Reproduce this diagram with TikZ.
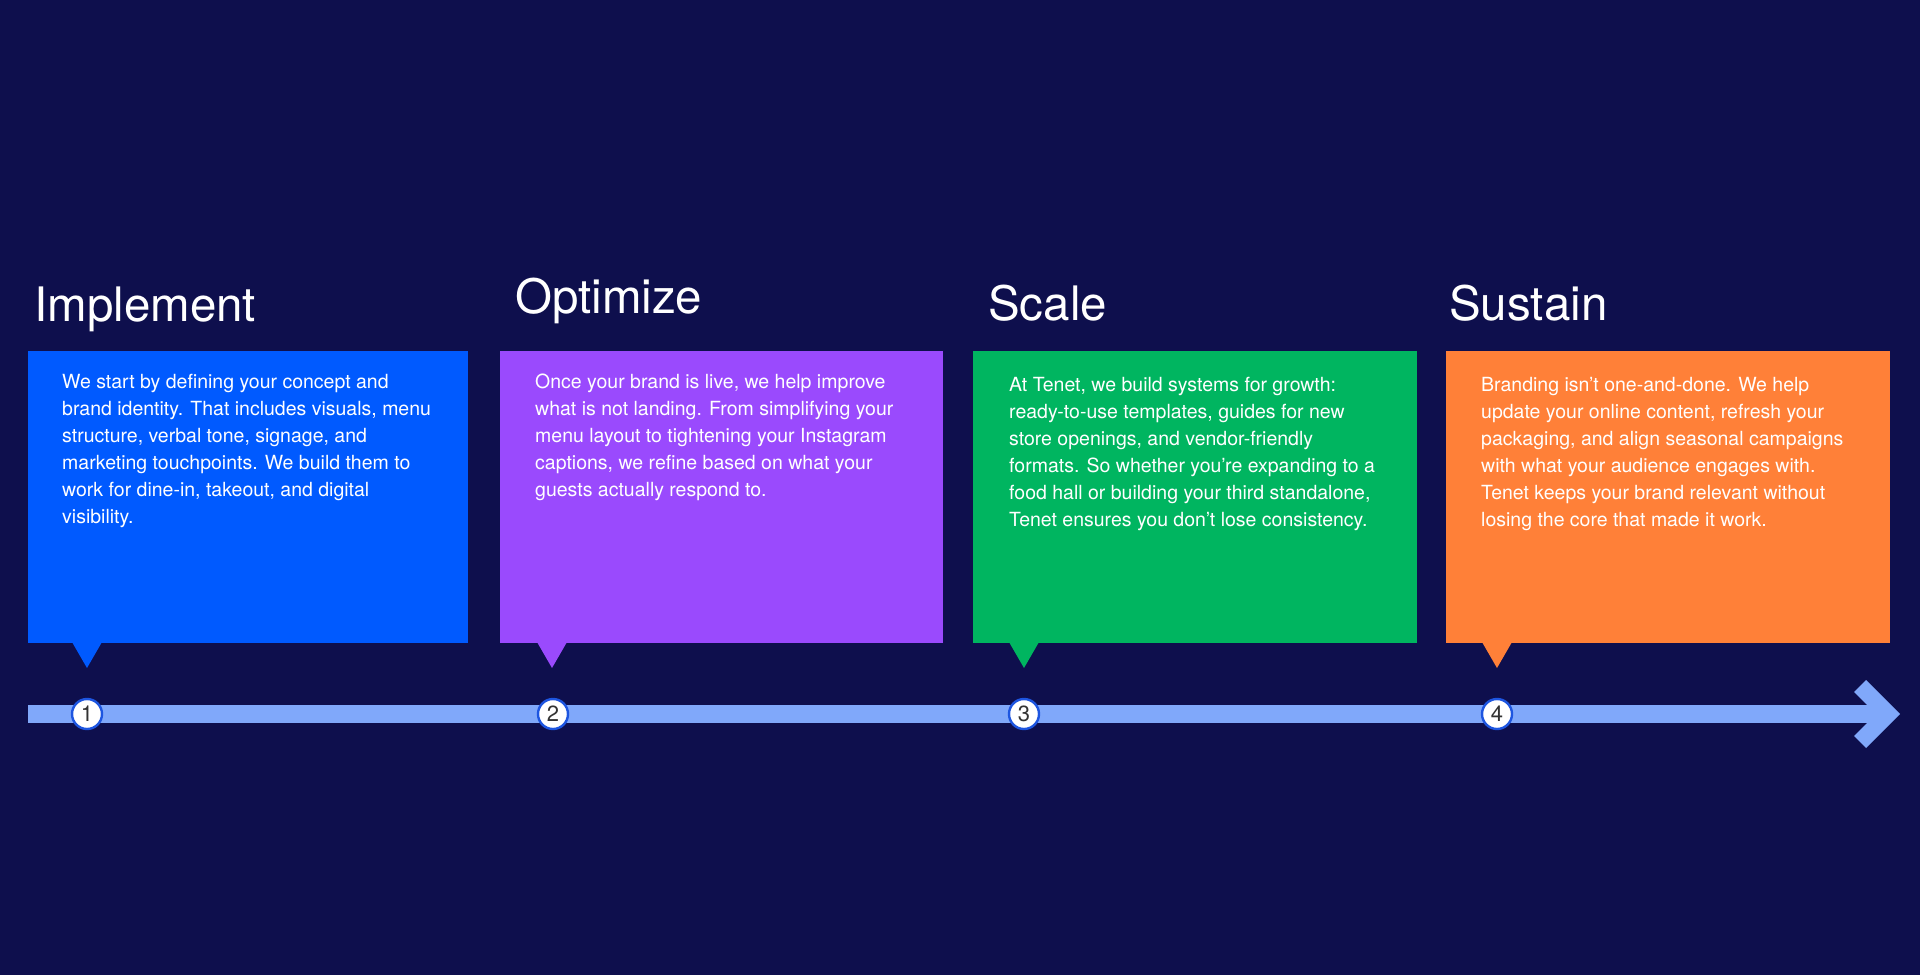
\documentclass[tikz,border=0pt]{standalone}
\usepackage{fontspec}
\setmainfont{TeX Gyre Heros}
\definecolor{bgnavy}{HTML}{0E0F4D}
\definecolor{cblue}{HTML}{005AFF}
\definecolor{cpurple}{HTML}{9A4AFD}
\definecolor{cgreen}{HTML}{00B560}
\definecolor{corange}{HTML}{FF8038}
\definecolor{cline}{HTML}{80A8FA}
\definecolor{cring}{HTML}{1D55E0}
\definecolor{cdigit}{HTML}{333333}
\tikzset{
  panel/.style={inner sep=0pt, outer sep=0pt},
  title/.style={anchor=base west, inner sep=0pt, text=white, font=\fontsize{47.5}{50}\selectfont},
  body/.style={anchor=north west, inner sep=0pt, text=white, align=left, font=\fontsize{19.5}{27}\selectfont},
  marker/.style={circle, fill=white, draw=cring, line width=2.4pt, minimum size=30pt, inner sep=0pt, text=cdigit, font=\fontsize{22}{22}\selectfont},
}
\begin{document}
\begin{tikzpicture}[x=1pt,y=-1pt]
\fill[bgnavy] (0,0) rectangle (1920,975);
\useasboundingbox (0,0) rectangle (1920,975);
% timeline
\coordinate (tstart) at (28,714);
\coordinate (tend) at (1886,714);
\draw[cline, line width=18pt] (tstart) -- (tend);
\fill[cline] (1900,714) -- (1866,680) -- (1854,692) -- (1876,714) -- (1854,736) -- (1866,748) -- cycle;
% panels
\foreach \l/\r/\col/\tip/\n in {28/468/cblue/87/1, 500/943/cpurple/552/2, 973/1417/cgreen/1024/3, 1446/1890/corange/1497/4}{
  \fill[\col] (\l,351) rectangle (\r,643);
  \fill[\col] (\tip-15,642) -- (\tip+15,642) -- (\tip,668) -- cycle;
}
\node[title] (t1) at (34,321) {Implement};
\node[title] (t2) at (515,313) {Optimize};
\node[title] (t3) at (988,320) {Scale};
\node[title] (t4) at (1449,320) {Sustain};
\node[body] (b1) at (62,374) {We start by defining your concept and\\brand identity. That includes visuals, menu\\structure, verbal tone, signage, and\\marketing touchpoints. We build them to\\work for dine-in, takeout, and digital\\visibility.};
\node[body] (b2) at (535,374) {Once your brand is live, we help improve\\what is not landing. From simplifying your\\menu layout to tightening your Instagram\\captions, we refine based on what your\\guests actually respond to.};
\node[body] (b3) at (1009,377) {At Tenet, we build systems for growth:\\ready-to-use templates, guides for new\\store openings, and vendor-friendly\\formats. So whether you’re expanding to a\\food hall or building your third standalone,\\Tenet ensures you don’t lose consistency.};
\node[body] (b4) at (1481,377) {Branding isn't one-and-done. We help\\update your online content, refresh your\\packaging, and align seasonal campaigns\\with what your audience engages with.\\Tenet keeps your brand relevant without\\losing the core that made it work.};
% markers
\node[marker] (m1) at (87,714) {1};
\node[marker] (m2) at (553,714) {2};
\node[marker] (m3) at (1024,714) {3};
\node[marker] (m4) at (1497,714) {4};
\end{tikzpicture}
\end{document}
